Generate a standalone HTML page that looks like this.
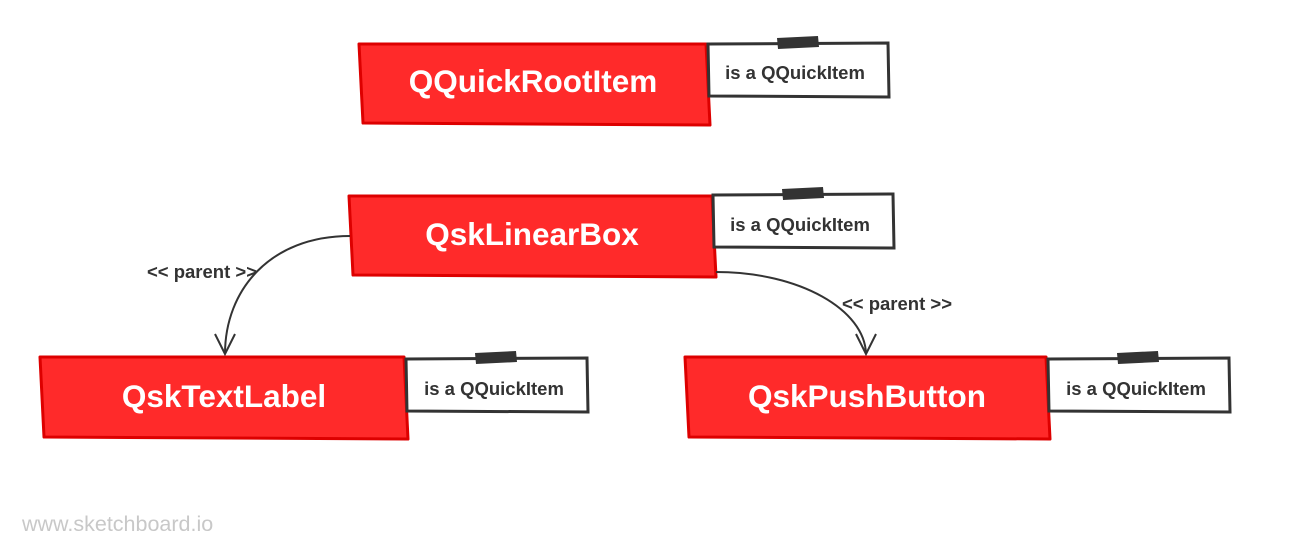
<!DOCTYPE html>
<html><head><meta charset="utf-8"><style>
html,body{margin:0;padding:0;background:#fff;}
svg{display:block;}
text{font-family:"Liberation Sans",sans-serif;}
</style></head><body>
<svg width="1305" height="556" viewBox="0 0 1305 556" xmlns="http://www.w3.org/2000/svg">
<g fill="#ff2a2a" stroke="#dd0000" stroke-width="3" stroke-linejoin="round">
<polygon points="359,44 706,44 710,125 363,123"/>
<polygon points="349,196 712,196 716,277 353,275"/>
<polygon points="40,357 404,357 408,439 44,437"/>
<polygon points="685,357 1046,357 1050,439 689,437"/>
</g>
<g fill="#fff" stroke="#333" stroke-width="3">
<polygon points="708,44 888,43 889,97 709,96"/>
<polygon points="713,195 893,194 894,248 714,247"/>
<polygon points="406,359 587,358 588,412 407,411"/>
<polygon points="1048,359 1229,358 1230,412 1049,411"/>
</g>
<g fill="#333">
<polygon points="777,38 818,36 819,47 778,49"/>
<polygon points="782,189 823,187 824,198 783,200"/>
<polygon points="475,353 516,351 517,362 476,364"/>
<polygon points="1117,353 1158,351 1159,362 1118,364"/>
</g>
<g fill="#fff" font-weight="bold" font-size="31.5" text-anchor="middle">
<text x="533" y="92">QQuickRootItem</text>
<text x="532" y="245">QskLinearBox</text>
<text x="224" y="407">QskTextLabel</text>
<text x="867" y="407">QskPushButton</text>
</g>
<g fill="#333" font-weight="bold" font-size="18.5" text-anchor="middle">
<text x="795" y="79">is a QQuickItem</text>
<text x="800" y="231">is a QQuickItem</text>
<text x="494" y="395">is a QQuickItem</text>
<text x="1136" y="395">is a QQuickItem</text>
<text x="202" y="278">&lt;&lt; parent &gt;&gt;</text>
<text x="897" y="310">&lt;&lt; parent &gt;&gt;</text>
</g>
<g fill="none" stroke="#333" stroke-width="2">
<path d="M350,236 C270,236 225,290 225,354"/>
<path d="M215,334 L225,354 L235,334"/>
<path d="M716,272 C800,272 865,310 866,354"/>
<path d="M856,334 L866,354 L876,334"/>
</g>
<text x="22" y="531" fill="#c8c8c8" font-size="21.5">www.sketchboard.io</text>
</svg>
</body></html>
